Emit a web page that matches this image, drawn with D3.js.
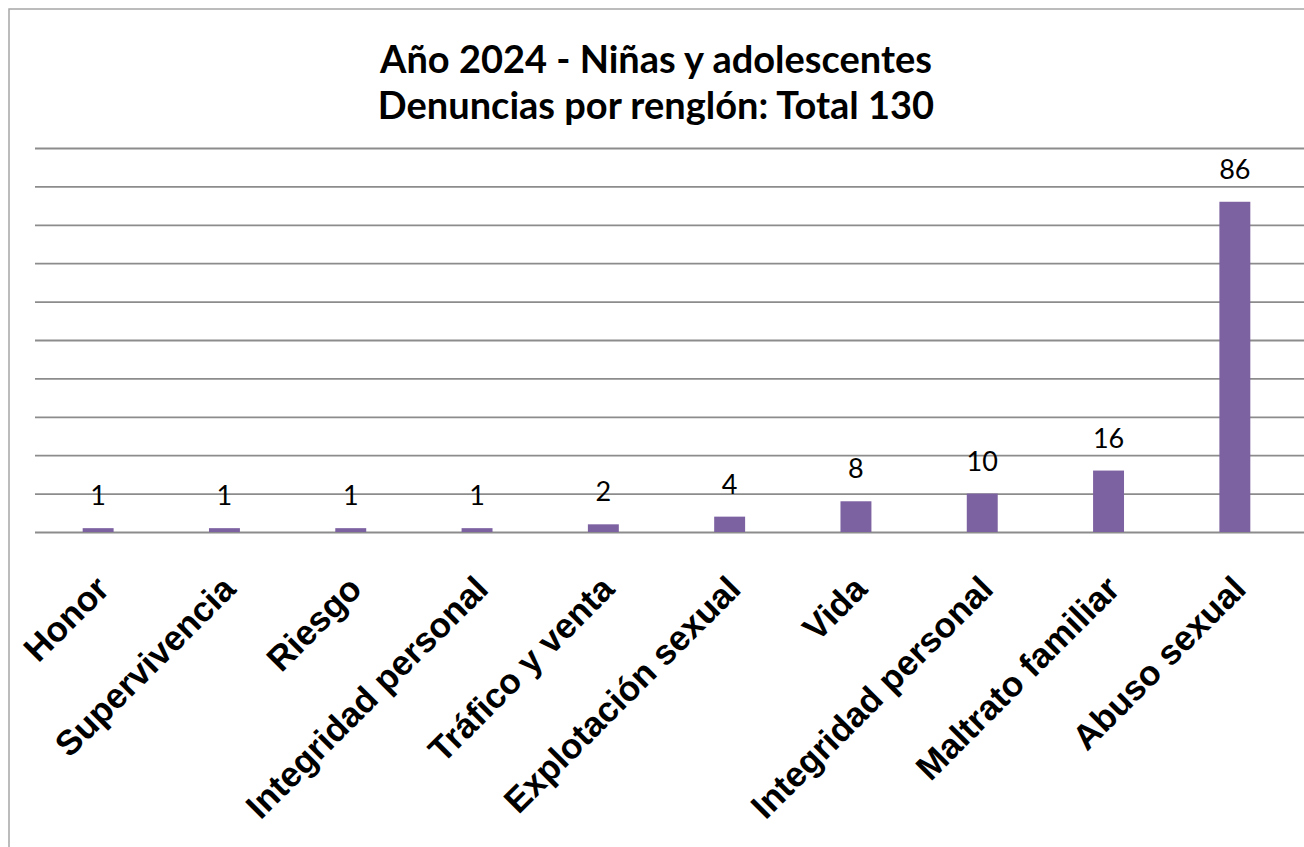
<!DOCTYPE html>
<html>
<head>
<meta charset="utf-8">
<script src="https://cdn.jsdelivr.net/npm/d3@7"></script>
<style>
  html, body { margin: 0; padding: 0; background: #fff; }
  svg { display: block; }
</style>
</head>
<body>
<div id="chart"></div>
<script>
// Datos del gráfico
const categories = ['Honor', 'Supervivencia', 'Riesgo', 'Integridad personal', 'Tráfico y venta',
  'Explotación sexual', 'Vida', 'Integridad personal', 'Maltrato familiar', 'Abuso sexual'];
const values = [1, 1, 1, 1, 2, 4, 8, 10, 16, 86];
const yTicks = [0, 10, 20, 30, 40, 50, 60, 70, 80, 90, 100];
const titleLines = ['Año 2024 - Niñas y adolescentes', 'Denuncias por renglón: Total 130'];

const width = 1304, height = 847;
const margin = { top: 148, right: 6, bottom: 315, left: 35 };

const svg = d3.select('#chart')
  .append('svg')
  .attr('width', width)
  .attr('height', height);

// Marco del gráfico (recortado a derecha y abajo)
svg.append('path')
  .attr('d', `M9,${height} L9,9 L${width},9`)
  .attr('fill', 'none')
  .attr('stroke', '#a6a6a6')
  .attr('stroke-width', 1.5);

// Título
svg.append('g')
  .selectAll('text')
  .data(titleLines)
  .enter().append('text')
  .attr('x', 656)
  .attr('y', (d, i) => 73 + i * 46)
  .attr('text-anchor', 'middle')
  .attr('font-family', 'Lato, sans-serif')
  .attr('font-weight', 700)
  .attr('font-size', 38)
  .attr('fill', '#000')
  .text(d => d);

const x = d3.scaleBand()
  .domain(d3.range(categories.length))
  .range([margin.left, width - margin.right])
  .paddingInner(0.755)
  .paddingOuter(0.3775);

const y = d3.scaleLinear()
  .domain([0, 100])
  .range([height - margin.bottom, margin.top]);

// Líneas de cuadrícula
const grid = d3.axisLeft(y)
  .tickValues(yTicks)
  .tickSize(-(width - margin.left))
  .tickFormat('');

svg.append('g')
  .attr('transform', `translate(${margin.left},0)`)
  .call(grid)
  .call(g => g.select('.domain').remove())
  .call(g => g.selectAll('.tick line')
    .attr('stroke', '#8c8c8c')
    .attr('stroke-width', 1.8));

// Barras
svg.append('g')
  .selectAll('rect')
  .data(values)
  .enter().append('rect')
  .attr('x', (d, i) => x(i))
  .attr('y', d => y(d))
  .attr('width', x.bandwidth())
  .attr('height', d => y(0) - y(d))
  .attr('fill', '#7d62a1');

// Etiquetas de valores
svg.append('g')
  .selectAll('text')
  .data(values)
  .enter().append('text')
  .attr('x', (d, i) => x(i) + x.bandwidth() / 2)
  .attr('y', d => y(d) - 23)
  .attr('text-anchor', 'middle')
  .attr('font-family', 'Lato, sans-serif')
  .attr('font-size', 27)
  .attr('fill', '#000')
  .text(d => d);

// Etiquetas de categorías (rotadas)
svg.append('g')
  .selectAll('text')
  .data(categories)
  .enter().append('text')
  .attr('transform', (d, i) => `translate(${x(i) + x.bandwidth() / 2 + 13},${y(0) + 59}) rotate(-45)`)
  .attr('text-anchor', 'end')
  .attr('font-family', '"Liberation Sans", Arial, sans-serif')
  .attr('font-weight', 700)
  .attr('font-size', 35)
  .attr('fill', '#000')
  .text(d => d);
</script>
</body>
</html>
